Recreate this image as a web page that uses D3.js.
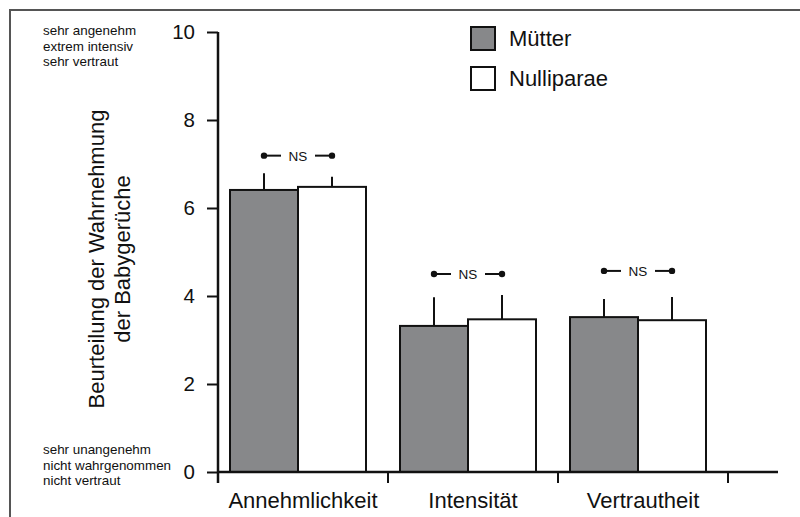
<!DOCTYPE html>
<html>
<head>
<meta charset="utf-8">
<script src="https://cdn.jsdelivr.net/npm/d3@7"></script>
<style>
  body { margin: 0; background: #fff; }
  svg text { font-family: "Liberation Sans", Arial, sans-serif; fill: #111; }
</style>
</head>
<body>
<svg width="800" height="517"></svg>
<script>
const categories = ["Annehmlichkeit", "Intensität", "Vertrautheit"];
const groups = ["Mütter", "Nulliparae"];
const muetter = [6.41, 3.32, 3.52];
const muetterErr = [0.38, 0.65, 0.41];
const nulliparae = [6.48, 3.47, 3.45];
const nulliparaeErr = [0.23, 0.55, 0.53];
const nsLevel = [7.19, 4.5, 4.57];
const yTicks = [0, 2, 4, 6, 8, 10];
const topLabels = ["sehr angenehm", "extrem intensiv", "sehr vertraut"];
const bottomLabels = ["sehr unangenehm", "nicht wahrgenommen", "nicht vertraut"];

const svg = d3.select("svg");
const x0 = 218, y0 = 472;

// frame (top + left only)
svg.append("path")
    .attr("d", "M10,517 V10 H800")
    .attr("fill", "none")
    .attr("stroke", "#555")
    .attr("stroke-width", 2);

const y = d3.scaleLinear().domain([0, 10]).range([y0, 32]);
const x = d3.scaleBand().domain(categories).range([x0, 728]);
const xs = d3.scaleBand().domain(groups).range([12, 148]);

const color = d3.scaleOrdinal().domain(groups).range(["#87888a", "#ffffff"]);

const data = categories.map((c, i) => ({
  cat: c,
  ns: nsLevel[i],
  vals: [
    {key: groups[0], v: muetter[i], e: muetterErr[i]},
    {key: groups[1], v: nulliparae[i], e: nulliparaeErr[i]}
  ]
}));

// error bars
const g = svg.append("g");
data.forEach(d => {
  d.vals.forEach(b => {
    const cx = x(d.cat) + xs(b.key) + xs.bandwidth() / 2;
    g.append("line")
        .attr("x1", cx).attr("x2", cx)
        .attr("y1", y(b.v)).attr("y2", y(b.v + b.e))
        .attr("stroke", "#111").attr("stroke-width", 2);
  });
});

// bars
data.forEach(d => {
  g.selectAll(null)
    .data(d.vals)
    .join("rect")
      .attr("x", b => x(d.cat) + xs(b.key))
      .attr("y", b => y(b.v))
      .attr("width", xs.bandwidth())
      .attr("height", b => y0 - y(b.v))
      .attr("fill", b => color(b.key))
      .attr("stroke", "#111")
      .attr("stroke-width", 2);
});

// NS markers
data.forEach(d => {
  const a = x(d.cat) + xs(groups[0]) + xs.bandwidth() / 2;
  const b = x(d.cat) + xs(groups[1]) + xs.bandwidth() / 2;
  const c = (a + b) / 2;
  const yy = y(d.ns);
  g.append("line").attr("x1", a).attr("x2", c - 17).attr("y1", yy).attr("y2", yy)
      .attr("stroke", "#111").attr("stroke-width", 2);
  g.append("line").attr("x1", c + 17).attr("x2", b).attr("y1", yy).attr("y2", yy)
      .attr("stroke", "#111").attr("stroke-width", 2);
  g.append("circle").attr("cx", a).attr("cy", yy).attr("r", 3.2).attr("fill", "#111");
  g.append("circle").attr("cx", b).attr("cy", yy).attr("r", 3.2).attr("fill", "#111");
  g.append("text").attr("x", c).attr("y", yy + 5)
      .attr("text-anchor", "middle").style("font-size", "13.5px").text("NS");
});

// y axis
const yAxis = svg.append("g")
    .attr("transform", `translate(${x0},0)`)
    .call(d3.axisLeft(y).tickValues(yTicks).tickSize(11).tickPadding(12).tickSizeOuter(0));
yAxis.select(".domain").attr("stroke", "#111").attr("stroke-width", 2.5)
    .attr("d", `M0,${y(10)}V${y0 + 11}`);
yAxis.selectAll(".tick line").attr("stroke", "#111").attr("stroke-width", 2);
yAxis.selectAll(".tick text").style("font-size", "20.5px").attr("fill", "#111")
    .style("font-family", '"Liberation Sans", Arial, sans-serif');

// x axis
const xAxis = svg.append("g")
    .attr("transform", `translate(0,${y0})`);
xAxis.append("line").attr("x1", x0).attr("x2", 778).attr("y1", 0).attr("y2", 0)
    .attr("stroke", "#111").attr("stroke-width", 2.5);
xAxis.selectAll(".xt")
  .data(categories.slice(1).concat(["end"]))
  .join("line")
    .attr("x1", (c, i) => x0 + x.bandwidth() * (i + 1))
    .attr("x2", (c, i) => x0 + x.bandwidth() * (i + 1))
    .attr("y1", 0).attr("y2", 11)
    .attr("stroke", "#111").attr("stroke-width", 2);
xAxis.selectAll(".xl")
  .data(categories)
  .join("text")
    .attr("x", c => x(c) + x.bandwidth() / 2)
    .attr("y", 36)
    .attr("text-anchor", "middle")
    .style("font-size", "22px")
    .text(c => c);

// y title
const yt = svg.append("text")
    .attr("transform", "translate(0,259) rotate(-90)")
    .attr("text-anchor", "middle")
    .style("font-size", "22px");
yt.append("tspan").attr("x", 0).attr("y", 104).text("Beurteilung der Wahrnehmung");
yt.append("tspan").attr("x", 0).attr("y", 130).text("der Babygerüche");

// scale anchor notes
svg.selectAll(".tl").data(topLabels).join("text")
    .attr("x", 43).attr("y", (d, i) => 35 + i * 15.5)
    .style("font-size", "13.4px").text(d => d);
svg.selectAll(".bl").data(bottomLabels).join("text")
    .attr("x", 43).attr("y", (d, i) => 454 + i * 15.5)
    .style("font-size", "13.4px").text(d => d);

// legend
const legend = svg.append("g").attr("transform", "translate(471,27)");
groups.forEach((k, i) => {
  const lg = legend.append("g").attr("transform", `translate(0,${i * 40})`);
  lg.append("rect").attr("width", 24).attr("height", 23)
      .attr("fill", color(k)).attr("stroke", "#111").attr("stroke-width", 2);
  lg.append("text").attr("x", 38).attr("y", 19).style("font-size", "22px").text(k);
});
</script>
</body>
</html>
